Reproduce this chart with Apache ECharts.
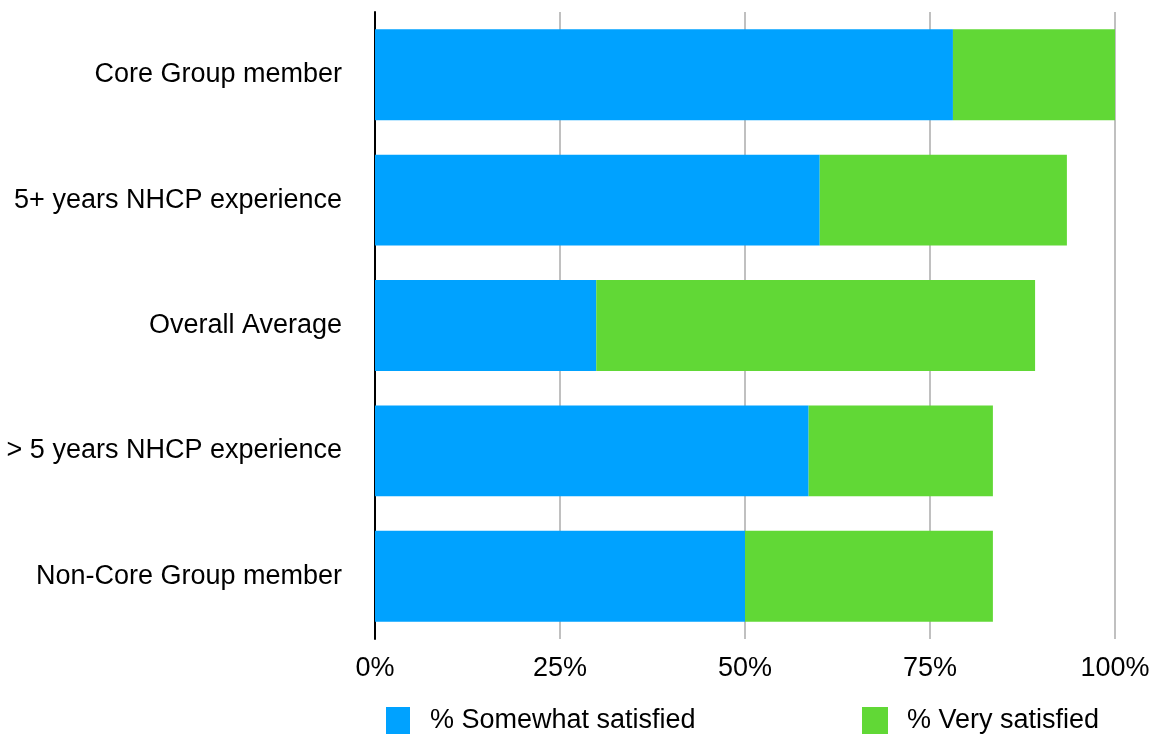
<!DOCTYPE html>
<html>
<head>
<meta charset="utf-8">
<script src="https://cdn.jsdelivr.net/npm/echarts@6/dist/echarts.min.js"></script>
<style>
  html, body { margin: 0; padding: 0; background: #fff; }
  #chart { width: 1155px; height: 738px; }
</style>
</head>
<body>
<div id="chart"></div>
<script>
// categories from top to bottom
const categories = [
  "Core Group member",
  "5+ years NHCP experience",
  "Overall Average",
  "> 5 years NHCP experience",
  "Non-Core Group member"
];
const somewhatSatisfied = [78.1, 60.1, 29.9, 58.6, 50.0];
const verySatisfied = [21.9, 33.4, 59.3, 24.9, 33.5];
const xTicks = [0, 25, 50, 75, 100];

const font = "Helvetica, 'Liberation Sans', Arial, sans-serif";
const fs = 27;
const chart = echarts.init(document.getElementById("chart"));

chart.setOption({
  animation: false,
  textStyle: { fontFamily: font },
  grid: { left: 375, right: 40, top: 12, bottom: 99 },
  legend: [
    {
      data: ["% Somewhat satisfied"],
      left: 386, top: 707, padding: 0,
      itemWidth: 24, itemHeight: 27,
      icon: "rect",
      textStyle: { fontSize: fs, color: "#000", fontFamily: font, padding: [0, 0, 0, 15] }
    },
    {
      data: ["% Very satisfied"],
      left: 862, top: 707, padding: 0,
      itemWidth: 26, itemHeight: 27,
      icon: "rect",
      textStyle: { fontSize: fs, color: "#000", fontFamily: font, padding: [0, 0, 0, 14] }
    }
  ],
  xAxis: {
    type: "value",
    min: xTicks[0],
    max: xTicks[xTicks.length - 1],
    interval: 25,
    axisLine: { show: false },
    axisTick: { show: false },
    axisLabel: {
      fontSize: fs, color: "#000", margin: 16, fontFamily: font,
      formatter: v => v + "%"
    },
    splitLine: { lineStyle: { color: "#c0c0c0", width: 2 } }
  },
  yAxis: {
    type: "category",
    data: categories,
    inverse: true,
    axisLine: { lineStyle: { color: "#000", width: 2 } },
    axisTick: { show: false },
    axisLabel: { fontSize: fs, color: "#000", margin: 33, fontFamily: font }
  },
  series: [
    {
      name: "% Somewhat satisfied",
      type: "bar",
      stack: "total",
      data: somewhatSatisfied,
      barCategoryGap: "27.5%",
      itemStyle: { color: "#00A2FF" }
    },
    {
      name: "% Very satisfied",
      type: "bar",
      stack: "total",
      data: verySatisfied,
      barCategoryGap: "27.5%",
      itemStyle: { color: "#61D836" }
    }
  ]
});
</script>
</body>
</html>
